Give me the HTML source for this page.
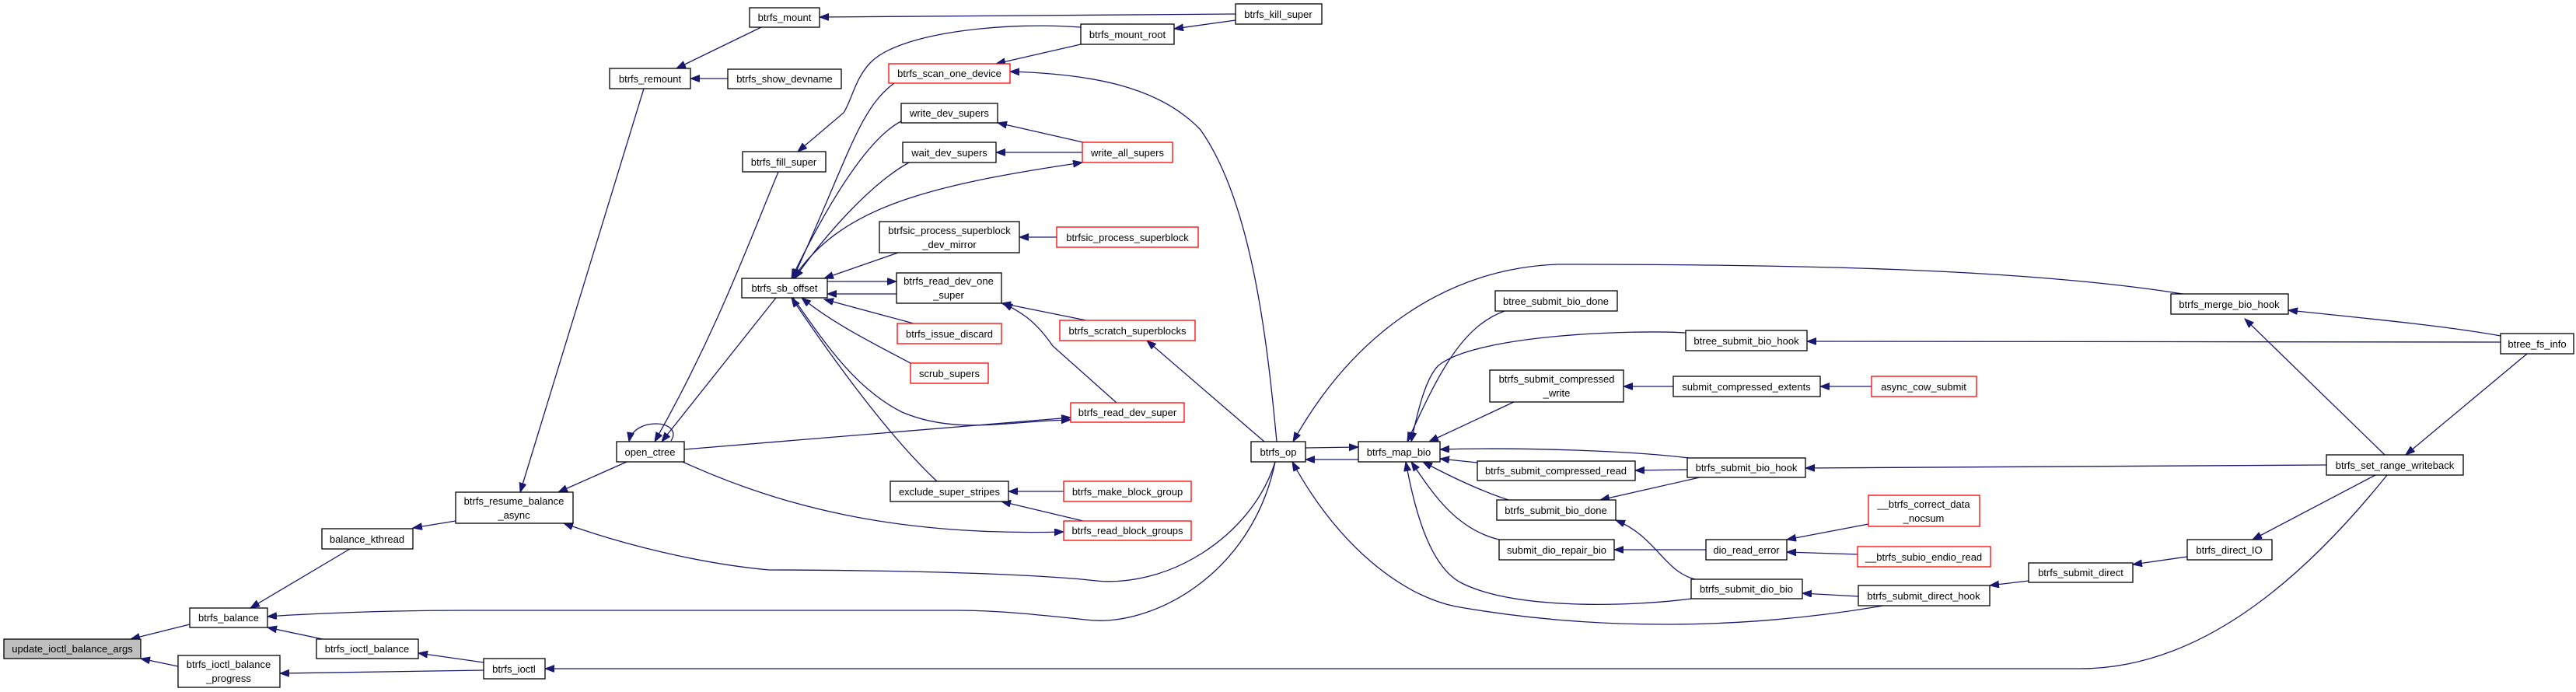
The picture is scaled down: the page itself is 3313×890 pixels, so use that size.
<!DOCTYPE html>
<html><head><meta charset="utf-8"><style>
html,body{margin:0;padding:0;background:#fff;}
svg{display:block;}
text{font-family:"Liberation Sans",sans-serif;font-size:13px;fill:#000;text-anchor:middle;}
.n{fill:#fff;stroke:#000;stroke-width:1.3;}
.r{fill:#fff;stroke:#ff0000;stroke-width:1.3;}
.g{fill:#bfbfbf;stroke:#000;stroke-width:1.3;}
.e{fill:none;stroke:#191970;stroke-width:1.3;marker-end:url(#a);}
</style></head><body>
<svg width="3313" height="890" viewBox="0 0 3313 890" xmlns="http://www.w3.org/2000/svg">
<defs><marker id="a" markerUnits="userSpaceOnUse" markerWidth="13" markerHeight="10" refX="12" refY="4.5" orient="auto"><path d="M0,0 L12,4.5 L0,9 z" fill="#191970" stroke="#191970"/></marker></defs>
<g>
<path class="e" d="M244,803 L168,822"/>
<path class="e" d="M229,857 L181,847"/>
<path class="e" d="M450,706 L322,782"/>
<path class="e" d="M586,670 L531,679"/>
<path class="e" d="M828,114 L669,633"/>
<path class="e" d="M806,594 L718,633"/>
<path class="e" d="M1640,594 C1610,690 1500,760 1401,746 C1300,736 1100,733 989,733 C900,725 800,700 725,673"/>
<path class="e" d="M1640,594 C1610,740 1480,808 1396,797 C1330,790 1280,785 1232,785 L600,785 C500,785 400,789 344,793"/>
<path class="e" d="M415,822 L344,807"/>
<path class="e" d="M622,852 L538,840"/>
<path class="e" d="M622,862 L360,866"/>
<path class="e" d="M3070,611 C2950,760 2820,860 2675,860 L701,860"/>
<path class="e" d="M979,35 L870,88"/>
<path class="e" d="M1589,18 L1054,22"/>
<path class="e" d="M936,101 L888,101"/>
<path class="e" d="M1589,26 L1510,37"/>
<path class="e" d="M1390,35 C1300,28 1160,40 1120,80 C1100,100 1095,130 1085,145 L1026,195"/>
<path class="e" d="M1390,57 L1281,82"/>
<path class="e" d="M1642,568 C1630,440 1610,260 1544,167 C1490,110 1400,95 1299,92"/>
<path class="e" d="M1393,183 L1283,158"/>
<path class="e" d="M1392,196 L1281,196"/>
<path class="e" d="M1020,358 C1080,270 1180,240 1392,209"/>
<path class="e" d="M1150,107 C1105,140 1092,200 1020,358"/>
<path class="e" d="M1159,156 C1126,173 1080,230 1018,358"/>
<path class="e" d="M1169,209 C1126,233 1070,290 1022,358"/>
<path class="e" d="M1359,305 L1311,305"/>
<path class="e" d="M1155,325 L1060,358"/>
<path class="e" d="M1063,362 L1153,362"/>
<path class="e" d="M1153,378 L1064,378"/>
<path class="e" d="M1175,416 L1060,385"/>
<path class="e" d="M1397,412 L1288,390"/>
<path class="e" d="M1436,518 L1354,445 C1330,410 1310,400 1290,390"/>
<path class="e" d="M1626,568 L1475,438"/>
<path class="e" d="M1171,467 C1120,440 1070,415 1031,383"/>
<path class="e" d="M1020,383 C1060,440 1100,500 1160,530 C1230,560 1300,541 1377,540"/>
<path class="e" d="M880,578 L1377,537"/>
<path class="e" d="M878,594 C1000,650 1150,690 1368,684"/>
<path class="e" d="M1205,619 C1142,560 1070,460 1018,383"/>
<path class="e" d="M1368,632 L1297,632"/>
<path class="e" d="M1393,670 L1288,645"/>
<path class="e" d="M863,567 C880,540 815,535 809,568"/>
<path class="e" d="M1001,221 C960,320 920,430 842,568"/>
<path class="e" d="M998,383 L851,568"/>
<path class="e" d="M1679,576 L1747,575"/>
<path class="e" d="M1747,591 L1679,591"/>
<path class="e" d="M2807,378 C2600,345 2300,340 2004,340 C1860,345 1740,430 1663,568"/>
<path class="e" d="M2422,779 C2300,800 2100,820 1872,780 C1800,765 1720,700 1662,594"/>
<path class="e" d="M1935,400 C1880,420 1850,480 1810,568"/>
<path class="e" d="M2168,428 C2100,424 1900,430 1850,470 C1835,485 1825,520 1815,568"/>
<path class="e" d="M1947,517 L1838,568"/>
<path class="e" d="M2152,497 L2088,497"/>
<path class="e" d="M2407,497 L2341,497"/>
<path class="e" d="M2172,589 C2100,580 1960,575 1852,578"/>
<path class="e" d="M2170,604 L2103,605"/>
<path class="e" d="M1900,595 L1852,590"/>
<path class="e" d="M2186,614 L2058,643"/>
<path class="e" d="M1940,643 C1900,630 1860,610 1830,594"/>
<path class="e" d="M1928,694 C1870,680 1840,630 1815,594"/>
<path class="e" d="M2194,707 L2076,707"/>
<path class="e" d="M2180,745 C2140,735 2130,690 2078,669"/>
<path class="e" d="M2175,770 C2100,780 1950,785 1880,750 C1840,730 1820,660 1808,594"/>
<path class="e" d="M2403,674 L2298,694"/>
<path class="e" d="M2389,713 L2298,710"/>
<path class="e" d="M2390,767 L2318,763"/>
<path class="e" d="M2609,747 L2559,753"/>
<path class="e" d="M2813,716 L2743,726"/>
<path class="e" d="M3055,611 L2897,694"/>
<path class="e" d="M3067,585 L2887,410"/>
<path class="e" d="M3216,432 C3150,420 3050,410 2943,399"/>
<path class="e" d="M3250,455 L3094,585"/>
<path class="e" d="M3216,440 L2324,439"/>
<path class="e" d="M2992,598 L2322,602"/>
</g>
<g>
<rect class="g" x="5" y="822" width="176" height="25"/><text x="93" y="839">update_ioctl_balance_args</text>
<rect class="n" x="244" y="782" width="100" height="25"/><text x="294" y="799">btrfs_balance</text>
<rect class="n" x="229" y="843" width="131" height="41"/><text x="294" y="859">btrfs_ioctl_balance</text><text x="294" y="877">_progress</text>
<rect class="n" x="407" y="822" width="131" height="25"/><text x="472" y="839">btrfs_ioctl_balance</text>
<rect class="n" x="622" y="847" width="79" height="26"/><text x="661" y="865">btrfs_ioctl</text>
<rect class="n" x="414" y="680" width="117" height="26"/><text x="472" y="698">balance_kthread</text>
<rect class="n" x="586" y="633" width="151" height="40"/><text x="661" y="649">btrfs_resume_balance</text><text x="661" y="667">_async</text>
<rect class="n" x="784" y="88" width="104" height="26"/><text x="836" y="106">btrfs_remount</text>
<rect class="n" x="793" y="568" width="87" height="26"/><text x="836" y="586">open_ctree</text>
<rect class="n" x="964" y="10" width="90" height="25"/><text x="1009" y="27">btrfs_mount</text>
<rect class="n" x="936" y="89" width="146" height="25"/><text x="1009" y="106">btrfs_show_devname</text>
<rect class="n" x="1589" y="5" width="111" height="26"/><text x="1644" y="23">btrfs_kill_super</text>
<rect class="n" x="1390" y="31" width="120" height="26"/><text x="1450" y="49">btrfs_mount_root</text>
<rect class="r" x="1143" y="82" width="156" height="25"/><text x="1221" y="99">btrfs_scan_one_device</text>
<rect class="n" x="1159" y="133" width="124" height="25"/><text x="1221" y="150">write_dev_supers</text>
<rect class="n" x="1161" y="183" width="120" height="26"/><text x="1221" y="201">wait_dev_supers</text>
<rect class="r" x="1392" y="183" width="116" height="26"/><text x="1450" y="201">write_all_supers</text>
<rect class="n" x="955" y="195" width="107" height="26"/><text x="1008" y="213">btrfs_fill_super</text>
<rect class="n" x="1131" y="285" width="180" height="40"/><text x="1221" y="301">btrfsic_process_superblock</text><text x="1221" y="319">_dev_mirror</text>
<rect class="r" x="1359" y="292" width="182" height="26"/><text x="1450" y="310">btrfsic_process_superblock</text>
<rect class="n" x="954" y="358" width="110" height="25"/><text x="1009" y="375">btrfs_sb_offset</text>
<rect class="n" x="1153" y="351" width="135" height="39"/><text x="1220" y="366">btrfs_read_dev_one</text><text x="1220" y="384">_super</text>
<rect class="r" x="1154" y="416" width="134" height="26"/><text x="1221" y="434">btrfs_issue_discard</text>
<rect class="r" x="1363" y="412" width="174" height="26"/><text x="1450" y="430">btrfs_scratch_superblocks</text>
<rect class="r" x="1171" y="467" width="100" height="26"/><text x="1221" y="485">scrub_supers</text>
<rect class="r" x="1377" y="518" width="146" height="25"/><text x="1450" y="535">btrfs_read_dev_super</text>
<rect class="n" x="1145" y="619" width="152" height="26"/><text x="1221" y="637">exclude_super_stripes</text>
<rect class="r" x="1368" y="619" width="164" height="26"/><text x="1450" y="637">btrfs_make_block_group</text>
<rect class="r" x="1368" y="670" width="164" height="25"/><text x="1450" y="687">btrfs_read_block_groups</text>
<rect class="n" x="1609" y="568" width="70" height="26"/><text x="1644" y="586">btrfs_op</text>
<rect class="n" x="1747" y="568" width="105" height="26"/><text x="1799" y="586">btrfs_map_bio</text>
<rect class="n" x="1923" y="374" width="157" height="26"/><text x="2001" y="392">btree_submit_bio_done</text>
<rect class="n" x="2168" y="425" width="156" height="26"/><text x="2246" y="443">btree_submit_bio_hook</text>
<rect class="n" x="1916" y="476" width="172" height="41"/><text x="2002" y="492">btrfs_submit_compressed</text><text x="2002" y="510">_write</text>
<rect class="n" x="2152" y="484" width="189" height="26"/><text x="2246" y="502">submit_compressed_extents</text>
<rect class="r" x="2407" y="484" width="135" height="26"/><text x="2474" y="502">async_cow_submit</text>
<rect class="n" x="1900" y="593" width="203" height="25"/><text x="2001" y="610">btrfs_submit_compressed_read</text>
<rect class="n" x="2170" y="589" width="152" height="25"/><text x="2246" y="606">btrfs_submit_bio_hook</text>
<rect class="n" x="1925" y="643" width="153" height="26"/><text x="2001" y="661">btrfs_submit_bio_done</text>
<rect class="n" x="1928" y="694" width="148" height="26"/><text x="2002" y="712">submit_dio_repair_bio</text>
<rect class="n" x="2194" y="694" width="104" height="26"/><text x="2246" y="712">dio_read_error</text>
<rect class="r" x="2403" y="637" width="143" height="40"/><text x="2474" y="653">__btrfs_correct_data</text><text x="2474" y="671">_nocsum</text>
<rect class="r" x="2389" y="703" width="171" height="26"/><text x="2474" y="721">__btrfs_subio_endio_read</text>
<rect class="n" x="2175" y="745" width="143" height="25"/><text x="2246" y="762">btrfs_submit_dio_bio</text>
<rect class="n" x="2390" y="753" width="169" height="26"/><text x="2474" y="771">btrfs_submit_direct_hook</text>
<rect class="n" x="2792" y="378" width="151" height="26"/><text x="2867" y="396">btrfs_merge_bio_hook</text>
<rect class="n" x="3216" y="429" width="94" height="26"/><text x="3263" y="447">btree_fs_info</text>
<rect class="n" x="2992" y="585" width="176" height="26"/><text x="3080" y="603">btrfs_set_range_writeback</text>
<rect class="n" x="2813" y="694" width="109" height="26"/><text x="2867" y="712">btrfs_direct_IO</text>
<rect class="n" x="2609" y="724" width="134" height="25"/><text x="2676" y="741">btrfs_submit_direct</text>
</g>
</svg>
</body></html>
